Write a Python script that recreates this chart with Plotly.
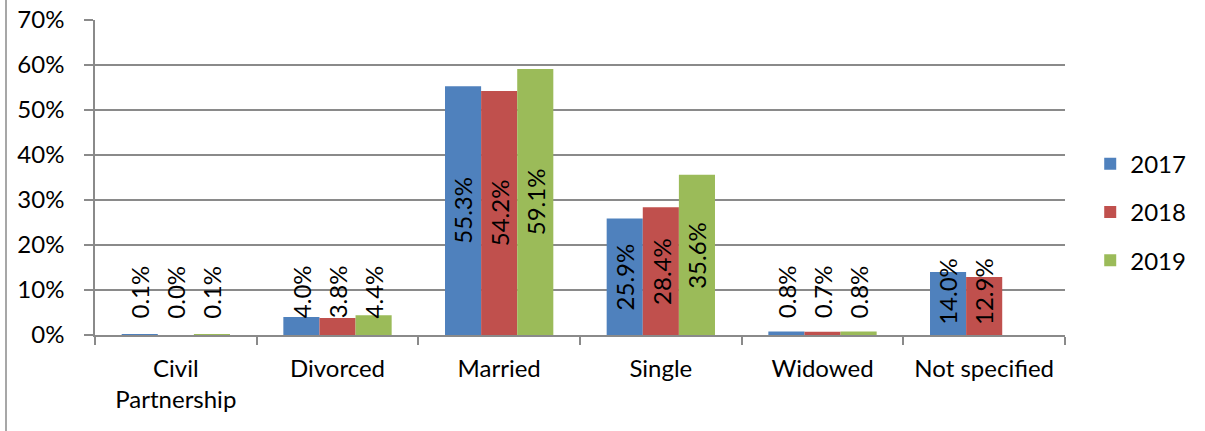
import plotly.graph_objects as go

categories = ["Civil<br>Partnership", "Divorced", "Married", "Single", "Widowed", "Not specified"]
years = ["2017", "2018", "2019"]
values_2017 = [0.1, 4.0, 55.3, 25.9, 0.8, 14.0]
values_2018 = [0.0, 3.8, 54.2, 28.4, 0.7, 12.9]
values_2019 = [0.1, 4.4, 59.1, 35.6, 0.8, None]
colors = ["#4F81BD", "#C0504D", "#9BBB59"]

series = [values_2017, values_2018, values_2019]
FONT = "Lato, 'Open Sans', sans-serif"
FS = 24
BARGAP = 0.33
bar_w = (1 - BARGAP) / len(series)

fig = go.Figure()
for k, (year, vals) in enumerate(zip(years, series)):
    fig.add_trace(go.Bar(
        x=categories,
        y=[v / 100 if v is not None else None for v in vals],
        name=year,
        marker=dict(color=colors[k], line=dict(width=0)),
        legendgroup=year,
    ))
    # rotated value labels, centred in the bar but kept clear of the axis
    for i, v in enumerate(vals):
        if v is None:
            continue
        fig.add_annotation(
            x=i + (k - 1) * bar_w, y=max(v / 2, 9.6) / 100,
            text=f"{v:.1f}%", textangle=-90, showarrow=False,
            font=dict(family=FONT, size=FS, color="black"),
        )

grid = "#8a8a8a"
fig.update_layout(
    width=1205, height=431,
    margin=dict(l=95, r=140, t=20, b=96),
    paper_bgcolor="white", plot_bgcolor="white",
    font=dict(family=FONT, size=FS, color="black"),
    barmode="group", bargap=BARGAP, bargroupgap=0,
    showlegend=True,
    legend=dict(x=1.026, y=0.39, xanchor="left", yanchor="middle",
                traceorder="grouped", tracegroupgap=14,
                font=dict(family=FONT, size=FS), itemwidth=30),
)
fig.update_yaxes(
    range=[0, 0.7], dtick=0.1, tickformat=".0%",
    showgrid=True, gridcolor=grid, gridwidth=1.5,
    showline=True, linecolor=grid, linewidth=1.5,
    ticks="outside", ticklen=9, tickcolor=grid, tickwidth=1.5,
    ticklabelstandoff=15, zeroline=False, automargin=False,
)
fig.update_xaxes(
    showline=True, linecolor=grid, linewidth=1.5,
    ticks="outside", tickson="boundaries", ticklen=8, tickcolor=grid, tickwidth=1.5,
    ticklabelstandoff=11, showgrid=False, tickangle=0, automargin=False,
)
# chart frame edge on the left
fig.add_shape(type="line", xref="paper", yref="paper",
              x0=-89 / 970, x1=-89 / 970, y0=-0.5, y1=1.2,
              line=dict(color="#8a8a8a", width=1.5))

# let the figure sit flush with the page corner
fig.write_html("out.html", config={"displayModeBar": False},
               post_script="document.body.style.margin='0';")
